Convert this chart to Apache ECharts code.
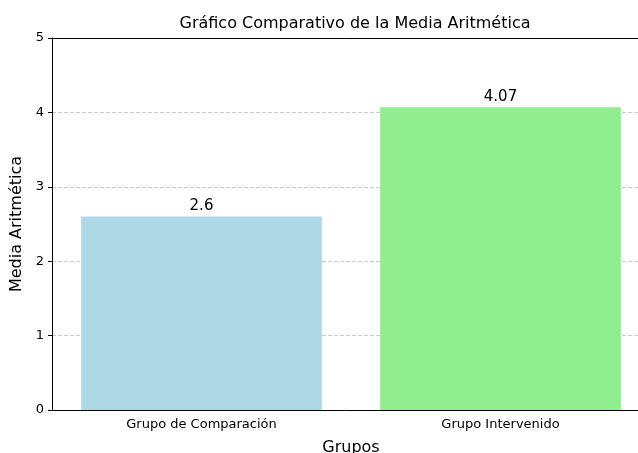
<!DOCTYPE html>
<html>
<head>
<meta charset="utf-8">
<script src="https://cdn.jsdelivr.net/npm/echarts@6/dist/echarts.min.js"></script>
<style>
  html, body { margin: 0; padding: 0; background: #fff; }
  #chart { width: 638px; height: 453px; }
</style>
</head>
<body>
<div id="chart"></div>
<script>
// datos del gráfico
const grupos = ['Grupo de Comparación', 'Grupo Intervenido'];
const medias = [2.6, 4.07];
const colores = ['#ADD8E6', '#90EE90'];

const font = 'DejaVu Sans';
const chart = echarts.init(document.getElementById('chart'));

const option = {
  animation: false,
  textStyle: { fontFamily: font },
  title: {
    text: 'Gráfico Comparativo de la Media Aritmética',
    left: 350,
    textAlign: 'center',
    top: 11,
    textStyle: { fontFamily: font, fontSize: 16, fontWeight: 'normal', color: '#000' }
  },
  grid: { left: 52, top: 38, width: 598, height: 372, containLabel: false, outerBoundsMode: 'none' },
  xAxis: {
    type: 'category',
    data: grupos,
    name: 'Grupos',
    nameLocation: 'middle',
    nameGap: 30,
    nameTextStyle: { fontFamily: font, fontSize: 16, color: '#000' },
    axisLine: { lineStyle: { color: '#000', width: 1 } },
    axisTick: { alignWithLabel: true, length: 4, lineStyle: { color: '#000' } },
    axisLabel: { fontFamily: font, fontSize: 13, color: '#000', margin: 8 }
  },
  yAxis: {
    type: 'value',
    min: 0,
    max: 5,
    interval: 1,
    name: 'Media Aritmética',
    nameLocation: 'middle',
    nameGap: 20,
    nameTextStyle: { fontFamily: font, fontSize: 16, color: '#000' },
    axisLine: { show: true, lineStyle: { color: '#000', width: 1 } },
    axisTick: { show: true, length: 4, lineStyle: { color: '#000' } },
    axisLabel: { fontFamily: font, fontSize: 13, color: '#000', margin: 8 },
    splitLine: { show: true, lineStyle: { color: '#cccccc', type: [4, 2], width: 1 } }
  },
  series: [
    {
      type: 'bar',
      barWidth: '80.5%',
      data: medias.map((v, i) => ({ value: v, itemStyle: { color: colores[i] } })),
      label: {
        show: true,
        position: 'top',
        distance: 3,
        fontFamily: font,
        fontSize: 15,
        color: '#000'
      }
    },
    {
      // marco superior del área
      type: 'line',
      data: [],
      markLine: {
        silent: true,
        symbol: 'none',
        label: { show: false },
        lineStyle: { color: '#000', type: 'solid', width: 1 },
        data: [{ yAxis: 5 }]
      }
    }
  ]
};

chart.setOption(option);
</script>
</body>
</html>
